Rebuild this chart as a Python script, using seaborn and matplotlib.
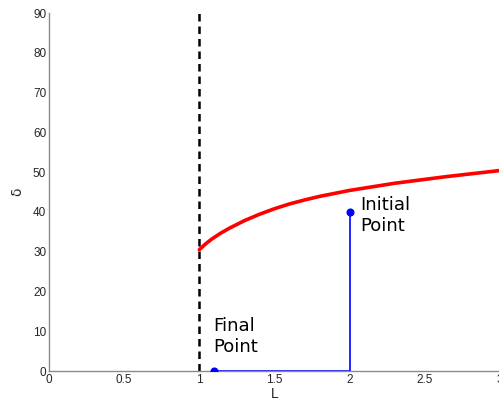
import matplotlib
matplotlib.use("Agg")
import matplotlib.pyplot as plt
import seaborn as sns
import pandas as pd

# Data
curve_L = [1.0, 1.04, 1.08, 1.14, 1.2, 1.3, 1.4, 1.5, 1.6, 1.7, 1.8, 2.0, 2.3, 2.65, 3.0]
curve_delta = [30.5, 31.9, 33.1, 34.6, 35.9, 37.8, 39.4, 40.8, 42.0, 43.0, 43.9, 45.4, 47.2, 48.9, 50.4]
path_L = [2.0, 2.0, 1.1]
path_delta = [40.0, 0.0, 0.0]
marker_L = [2.0, 1.1]
marker_delta = [40.0, 0.0]
limit_L = [1.0, 1.0]
limit_delta = [0.0, 90.0]
x_ticks = [0, 0.5, 1, 1.5, 2, 2.5, 3]
x_labels = ["0", "0.5", "1", "1.5", "2", "2.5", "3"]
y_ticks = [0, 10, 20, 30, 40, 50, 60, 70, 80, 90]

sns.set_style("white")
plt.rcParams['font.family'] = ['DejaVu Sans']

fig = plt.figure(figsize=(4.99, 4.03), dpi=100)
ax = fig.add_axes([49/499, 32/403, 451/499, 358/403])

curve = pd.DataFrame({"L": curve_L, "delta": curve_delta})
path = pd.DataFrame({"L": path_L, "delta": path_delta})
marks = pd.DataFrame({"L": marker_L, "delta": marker_delta})
limit = pd.DataFrame({"L": limit_L, "delta": limit_delta})

sns.lineplot(data=limit, x="L", y="delta", ax=ax, color="black", lw=1.8,
             linestyle=(0, (3, 2)), sort=False, estimator=None)
sns.lineplot(data=curve, x="L", y="delta", ax=ax, color="#ff0000", lw=2.6,
             sort=False, estimator=None)
sns.lineplot(data=path, x="L", y="delta", ax=ax, color="#0000ff", lw=1.2,
             sort=False, estimator=None)
sns.scatterplot(data=marks, x="L", y="delta", ax=ax, color="#0000ff", s=34,
                edgecolor="#0000ff", linewidth=0, zorder=5)

ax.text(2.07, 44.0, "Initial\nPoint", fontsize=13, va="top", ha="left",
        color="black", linespacing=1.25)
ax.text(1.09, 13.6, "Final\nPoint", fontsize=13, va="top", ha="left",
        color="black", linespacing=1.25)

ax.set_xlim(0, 3)
ax.set_ylim(0, 90)
ax.set_xticks(x_ticks)
ax.set_xticklabels(x_labels)
ax.set_yticks(y_ticks)
for s in ["top", "right"]:
    ax.spines[s].set_visible(False)
for s in ["left", "bottom"]:
    ax.spines[s].set_color("#8a8a8a")
    ax.spines[s].set_linewidth(1.0)
ax.tick_params(direction="in", length=3, width=0.8, color="#8a8a8a",
               labelsize=8.5, labelcolor="#262626", pad=2)
for lab in ax.get_xticklabels() + ax.get_yticklabels():
    lab.set_family("Liberation Sans")
ax.set_xlabel("L", fontsize=10, color="#262626", labelpad=1, family="Liberation Sans")
ax.set_ylabel("δ", fontsize=10, color="#262626", labelpad=6)

fig.savefig("out.png", dpi=100)
